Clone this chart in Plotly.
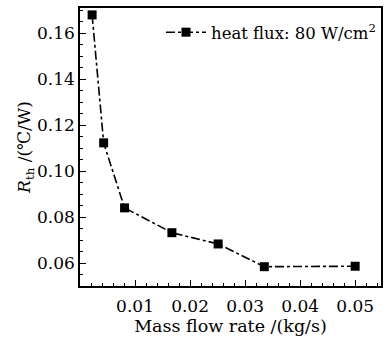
import plotly.graph_objects as go

mass_flow = [0.0022, 0.0043, 0.0081, 0.0167, 0.0251, 0.0335, 0.0500]
r_th = [0.1680, 0.1123, 0.0840, 0.0732, 0.0683, 0.0584, 0.0586]
series_name = "heat flux: 80 W/cm<sup>2</sup>"
x_ticks = [0.01, 0.02, 0.03, 0.04, 0.05]
y_ticks = [0.06, 0.08, 0.10, 0.12, 0.14, 0.16]

font_family = "DejaVu Serif, Liberation Serif, serif"

fig = go.Figure()
fig.add_trace(go.Scatter(
    x=mass_flow, y=r_th, mode="lines+markers", name=series_name,
    line=dict(color="black", width=1.6, dash="dashdot"),
    marker=dict(symbol="square", size=9, color="black"),
))

axis_common = dict(
    showline=True, linecolor="black", linewidth=1.5, mirror=True,
    ticks="inside", ticklen=6, tickwidth=1, tickcolor="black",
    showgrid=False, zeroline=False,
    tickfont=dict(family=font_family, size=17, color="black"),
)

fig.update_layout(
    width=385, height=338,
    margin=dict(l=80, r=2, t=8, b=52),
    paper_bgcolor="white", plot_bgcolor="white",
    font=dict(family=font_family, color="black"),
    showlegend=True,
    legend=dict(x=1.0, y=0.975, xanchor="right", yanchor="top",
                bgcolor="rgba(0,0,0,0)", font=dict(family=font_family, size=16.5),
                itemwidth=40),
    xaxis=dict(range=[0, 0.0547], tickvals=x_ticks,
               ticktext=[f"{v:.2f}" for v in x_ticks],
               ticklabelstandoff=4,
               title=dict(text="Mass flow rate /(kg/s)", font=dict(family=font_family, size=17.5), standoff=0),
               minor=dict(ticks="inside", ticklen=3, dtick=0.002, tick0=0, tickcolor="black"),
               **axis_common),
    yaxis=dict(range=[0.05, 0.171], tickvals=y_ticks,
               ticktext=[f"{v:.2f}" for v in y_ticks],
               title=dict(text="<i>R</i><sub>th</sub> /(℃/W)", font=dict(family=font_family, size=17), standoff=2),
               minor=dict(ticks="inside", ticklen=3, dtick=0.005, tick0=0.05, tickcolor="black"),
               **axis_common),
)

fig.write_html("out.html")
